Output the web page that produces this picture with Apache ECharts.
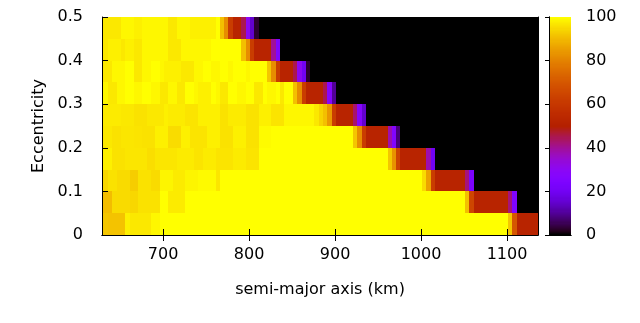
<!DOCTYPE html>
<html><head><meta charset="utf-8">
<script src="https://cdn.jsdelivr.net/npm/echarts@6/dist/echarts.min.js"></script>
<style>html,body{margin:0;padding:0;background:#fff}#c{width:640px;height:323px}</style>
</head><body><div id="c"></div><script>
// semi-major axis grid: cell centres start at 628.5 km, 5 km wide cells
const aFirstCentre = 628.5, aStep = 5;
const aMin = 629, aMax = 1136;
const xTickValues = [700, 800, 900, 1000, 1100];
// eccentricity cell centres (0.05 wide)
const eccCentres = [0.025, 0.075, 0.125, 0.175, 0.225, 0.275, 0.325, 0.375, 0.425, 0.475];
const eStep = 0.05;

// values (0..100) per eccentricity row, 102 columns each
const row_e0_00 = [
 92,92,91.5,91.5,91.5,91.5,98,97,97,97,
 97,97,99,99,100,100,100,100,100,100,
 100,100,100,100,100,100,100,100,100,100,
 100,100,100,100,100,100,100,100,100,100,
 100,100,100,100,100,100,100,100,100,100,
 100,100,100,100,100,100,100,100,100,100,
 100,100,100,100,100,100,100,100,100,100,
 100,100,100,100,100,100,100,100,100,100,
 100,100,100,100,100,100,100,100,100,100,
 100,100,100,100,100,92,70,52,52,52,
 52,52];
const row_e0_05 = [
 90.5,90.5,90.5,95,95,95,95,94.5,94.5,96,
 96,96,96,96,100,100,97.3,97.3,97.3,97.3,
 100,100,100,100,100,100,100,100,100,100,
 100,100,100,100,100,100,100,100,100,100,
 100,100,100,100,100,100,100,100,100,100,
 100,100,100,100,100,100,100,100,100,100,
 100,100,100,100,100,100,100,100,100,100,
 100,100,100,100,100,100,100,100,100,100,
 100,100,100,100,100,91,65,52,52,52,
 52,52,52,52,52,42,25,0,0,0,
 0,0];
const row_e0_10 = [
 94.5,94.5,96,96,95,95,95,93,93,96,
 96,96,95,95,98.7,98.7,98.7,97.3,97.3,97.3,
 98.7,98.7,98.7,99.3,99.3,99.3,99.3,96.6,100,100,
 100,100,100,100,100,100,100,100,100,100,
 100,100,100,100,100,100,100,100,100,100,
 100,100,100,100,100,100,100,100,100,100,
 100,100,100,100,100,100,100,100,100,100,
 100,100,100,100,100,95,86,62,52,52,
 52,52,52,52,52,42,24,0,0,0,
 0,0,0,0,0,0,0,0,0,0,
 0,0];
const row_e0_15 = [
 98,98,98,96,96,96,96.6,96.6,96.6,96.6,
 96.6,95.5,95.5,96.6,96.6,96.6,96.6,96.6,97.3,97.3,
 97.3,97.3,96.3,96.3,97.3,97.3,97.3,96.3,96.3,96.3,
 96.3,97.3,97.3,97.3,96.3,96.3,96.3,100,100,100,
 100,100,100,100,100,100,100,100,100,100,
 100,100,100,100,100,100,100,100,100,100,
 100,100,100,100,100,100,100,92,83,64,
 52,52,52,52,52,52,38,20,0,0,
 0,0,0,0,0,0,0,0,0,0,
 0,0,0,0,0,0,0,0,0,0,
 0,0];
const row_e0_20 = [
 97,97,97,96,96,96.6,96.6,96.6,96.3,96.3,
 96,96,96,98,98,98,95.2,95.2,95.2,98,
 98,96.3,96.3,96.3,96.3,98,98,98,96,96,
 96,98,98,98,96,96,96,99.5,99.5,99.5,
 100,100,100,100,100,100,100,100,100,100,
 100,100,100,100,100,100,100,100,100,92,
 82,62,52,52,52,52,52,38,26,8,
 0,0,0,0,0,0,0,0,0,0,
 0,0,0,0,0,0,0,0,0,0,
 0,0,0,0,0,0,0,0,0,0,
 0,0];
const row_e0_25 = [
 97.3,97.3,97.3,97.3,97.3,97,97,97,96,96,
 96,97,97,97,97,98,97.3,97.3,97.3,97.3,
 96.3,96.3,96.3,98,98,98,98,98,96,96,
 97.3,97.3,97.3,97.3,96,96,96,98,98,98,
 96.3,96.3,96.3,99,99,99,99,99,99,99,
 97,94,91,84,62,52,52,52,52,43,
 27,15,0,0,0,0,0,0,0,0,
 0,0,0,0,0,0,0,0,0,0,
 0,0,0,0,0,0,0,0,0,0,
 0,0,0,0,0,0,0,0,0,0,
 0,0];
const row_e0_30 = [
 99,99,97,97,99,99,100,100,99,99,
 100,100,99,99,97,97,99,99,97,97,
 100,100,99,98,98,98,100,99,97,97,
 100,100,99,99,100,100,97,97,100,99,
 99,100,97,100,100,91,82,62,52,52,
 52,52,45,27,10,0,0,0,0,0,
 0,0,0,0,0,0,0,0,0,0,
 0,0,0,0,0,0,0,0,0,0,
 0,0,0,0,0,0,0,0,0,0,
 0,0,0,0,0,0,0,0,0,0,
 0,0];
const row_e0_35 = [
 97,97,97,99,99,99,100,100,97,97,
 99,99,100,100,99,98,98,98,98,97,
 97,97,99,99,100,100,99,99,100,100,
 99,100,100,100,99,100,100,100,100,92,
 82,62,52,52,52,45,30,20,3,0,
 0,0,0,0,0,0,0,0,0,0,
 0,0,0,0,0,0,0,0,0,0,
 0,0,0,0,0,0,0,0,0,0,
 0,0,0,0,0,0,0,0,0,0,
 0,0,0,0,0,0,0,0,0,0,
 0,0];
const row_e0_40 = [
 97,97,98,98,98,97,98,98,97,97,
 99,99,99,99,99,99,97,97,97,99,
 99,99,99,99,99,99,100,100,100,100,
 100,100,100,91,82,62,52,52,52,52,
 40,25,0,0,0,0,0,0,0,0,
 0,0,0,0,0,0,0,0,0,0,
 0,0,0,0,0,0,0,0,0,0,
 0,0,0,0,0,0,0,0,0,0,
 0,0,0,0,0,0,0,0,0,0,
 0,0,0,0,0,0,0,0,0,0,
 0,0];
const row_e0_45 = [
 97,97,97,97,97,99,99,99,98,98,
 99,99,99,99,99,99,97,97,99,99,
 99,98,98,98,98,98,98,100,91,82,
 62,52,52,45,30,15,3,0,0,0,
 0,0,0,0,0,0,0,0,0,0,
 0,0,0,0,0,0,0,0,0,0,
 0,0,0,0,0,0,0,0,0,0,
 0,0,0,0,0,0,0,0,0,0,
 0,0,0,0,0,0,0,0,0,0,
 0,0,0,0,0,0,0,0,0,0,
 0,0];
const rows = [row_e0_00,row_e0_05,row_e0_10,row_e0_15,row_e0_20,row_e0_25,row_e0_30,row_e0_35,row_e0_40,row_e0_45];

// build heatmap data
const cells = [];
rows.forEach((row, r) => row.forEach((v, j) => cells.push([aFirstCentre + aStep * j, eccCentres[r], v])));
// colour bar strips
const cbStep = 0.5, cbData = [];
for (let v = 0; v <= 100 + 1e-9; v += cbStep) cbData.push([0.5, v, v]);

// gnuplot default palette (rgbformulae 7,5,15)
const palette = [];
for (let i = 0; i <= 60; i++) {
  const x = i / 60;
  const r = Math.sqrt(x), g = Math.pow(x, 3), b = Math.max(0, Math.sin(2 * Math.PI * x));
  const h = c => Math.round(Math.min(1, Math.max(0, c)) * 255);
  palette.push('rgb(' + h(r) + ',' + h(g) + ',' + h(b) + ')');
}

const FONT = 'DejaVu Sans';
const txt = {fontFamily: FONT, fontSize: 16, color: '#000'};
const line = {show: true, lineStyle: {color: '#000', width: 1}};
const plain = v => String(v);

function cellItem(halfW, halfH) {
  return function (params, api) {
    const x = api.value(0), y = api.value(1);
    const p0 = api.coord([x - halfW, y + halfH]);
    const p1 = api.coord([x + halfW, y - halfH]);
    const x0 = Math.round(p0[0]), y0 = Math.round(p0[1]);
    const x1 = Math.round(p1[0]), y1 = Math.round(p1[1]);
    const cs = params.coordSys;
    const rect = echarts.graphic.clipRectByRect(
      {x: x0, y: y0, width: x1 - x0, height: y1 - y0},
      {x: cs.x, y: cs.y, width: cs.width, height: cs.height});
    if (!rect) return;
    return {type: 'rect', shape: rect, style: {fill: api.visual('color')}};
  };
}

const chart = echarts.init(document.getElementById('c'), null, {renderer: 'canvas'});
chart.setOption({
  animation: false,
  backgroundColor: '#fff',
  textStyle: {fontFamily: FONT},
  grid: [
    {left: 102, top: 17, width: 436, height: 218},
    {left: 549, top: 17, width: 22, height: 218}
  ],
  visualMap: {
    type: 'continuous', show: false, min: 0, max: 100, dimension: 2,
    seriesIndex: [0, 1], inRange: {color: palette}
  },
  xAxis: [
    {type: 'value', gridIndex: 0, position: 'bottom', min: aMin, max: aMax, z: 10,
     axisLine: line, splitLine: {show: false},
     axisTick: {show: true, inside: true, length: 6, lineStyle: {color: '#000'}, customValues: xTickValues},
     axisLabel: Object.assign({margin: 12, customValues: xTickValues, formatter: plain}, txt),
     name: 'semi-major axis (km)', nameLocation: 'middle', nameGap: 47, nameTextStyle: txt},
    {type: 'value', gridIndex: 0, position: 'top', min: aMin, max: aMax, z: 10,
     axisLine: line, splitLine: {show: false},
     axisTick: {show: true, inside: true, length: 6, lineStyle: {color: '#000'}, customValues: xTickValues},
     axisLabel: {show: false}},
    {type: 'value', gridIndex: 1, position: 'bottom', min: 0, max: 1, z: 10,
     axisLine: line, splitLine: {show: false}, axisTick: {show: false}, axisLabel: {show: false}},
    {type: 'value', gridIndex: 1, position: 'top', min: 0, max: 1, z: 10,
     axisLine: line, splitLine: {show: false}, axisTick: {show: false}, axisLabel: {show: false}}
  ],
  yAxis: [
    {type: 'value', gridIndex: 0, position: 'left', min: 0, max: 0.5, interval: 0.1, z: 10,
     axisLine: line, splitLine: {show: false},
     axisTick: {show: true, inside: true, length: 6, lineStyle: {color: '#000'}},
     axisLabel: Object.assign({margin: 19}, txt),
     name: 'Eccentricity', nameLocation: 'middle', nameGap: 52, nameTextStyle: txt},
    {type: 'value', gridIndex: 0, position: 'right', min: 0, max: 0.5, interval: 0.1, z: 10,
     axisLine: line, splitLine: {show: false},
     axisTick: {show: true, inside: true, length: 6, lineStyle: {color: '#000'}},
     axisLabel: {show: false}},
    {type: 'value', gridIndex: 1, position: 'left', min: 0, max: 100, interval: 20, z: 10,
     axisLine: line, splitLine: {show: false}, axisTick: {show: false}, axisLabel: {show: false}},
    {type: 'value', gridIndex: 1, position: 'right', min: 0, max: 100, interval: 20, z: 10,
     axisLine: line, splitLine: {show: false},
     axisTick: {show: true, inside: true, length: 4, lineStyle: {color: '#000'}},
     axisLabel: Object.assign({margin: 15}, txt)}
  ],
  series: [
    {type: 'custom', xAxisIndex: 0, yAxisIndex: 0, data: cells,
     encode: {x: 0, y: 1}, renderItem: cellItem(aStep / 2, eStep / 2), silent: true},
    {type: 'custom', xAxisIndex: 2, yAxisIndex: 2, data: cbData,
     encode: {x: 0, y: 1}, renderItem: cellItem(0.5, cbStep / 2), silent: true}
  ]
});
</script></body></html>
